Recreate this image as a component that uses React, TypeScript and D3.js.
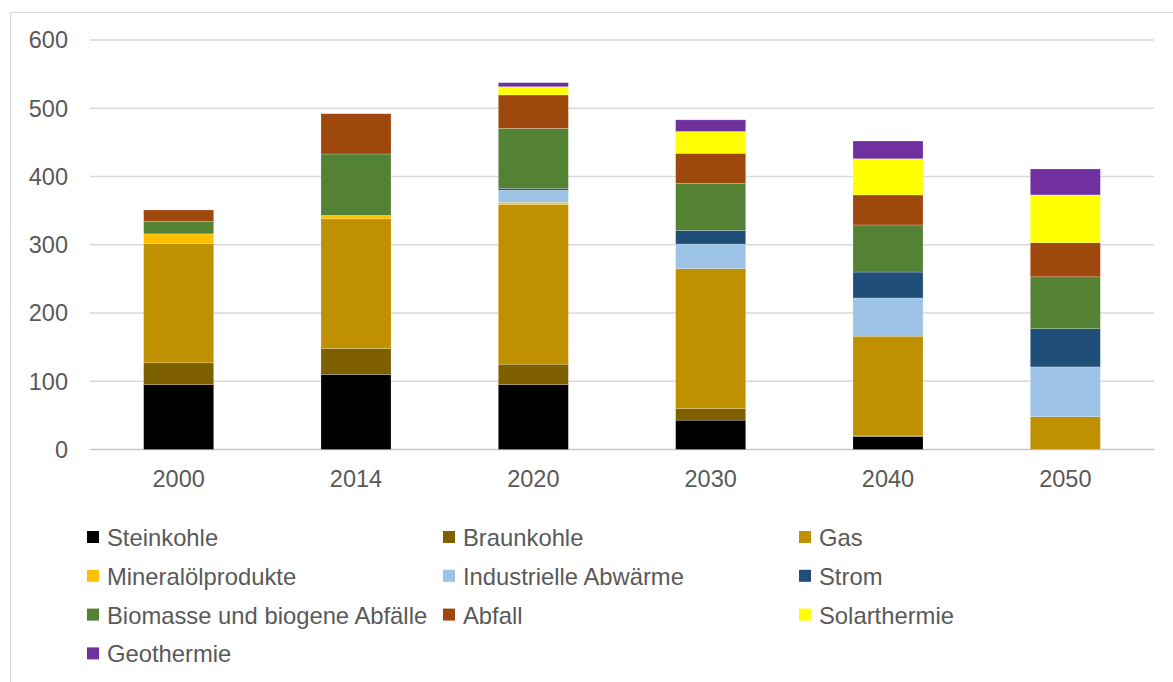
import React from "react";
import * as d3 from "d3";

const years = ["2000", "2014", "2020", "2030", "2040", "2050"];

const seriesNames = [
  "Steinkohle",
  "Braunkohle",
  "Gas",
  "Mineralölprodukte",
  "Industrielle Abwärme",
  "Strom",
  "Biomasse und biogene Abfälle",
  "Abfall",
  "Solarthermie",
  "Geothermie",
];

const steinkohle = [95, 110, 95, 43, 19, 0];
const braunkohle = [32, 38, 30, 17, 1, 0];
const gas = [175, 190, 234, 205, 146, 48];
const mineraloel = [14, 5, 3, 0, 0, 0];
const abwaerme = [0, 0, 18, 36, 56, 73];
const strom = [0, 0, 2.5, 20, 38, 56];
const biomasse = [18, 90, 88, 69, 69, 76];
const abfall = [17, 59, 49, 44, 44, 50];
const solar = [0, 0, 12, 32, 53, 70];
const geothermie = [0, 0, 6, 17, 26, 38];

const seriesValues = [
  steinkohle,
  braunkohle,
  gas,
  mineraloel,
  abwaerme,
  strom,
  biomasse,
  abfall,
  solar,
  geothermie,
];

const colors = [
  "#000000",
  "#7f6000",
  "#bf9000",
  "#ffc000",
  "#9dc3e6",
  "#1f4e79",
  "#548235",
  "#9e480e",
  "#ffff00",
  "#7030a0",
];

const yTicks = [0, 100, 200, 300, 400, 500, 600];

const W = 1173;
const H = 682;
const FONT = "'Liberation Sans', Arial, sans-serif";
const TEXT = "#595959";

export default function App() {
  const left = 90;
  const right = 1154;
  const top = 40;
  const bottom = 449.5;

  const x = d3
    .scaleBand<string>()
    .domain(years)
    .range([left, right])
    .paddingInner(0.605)
    .paddingOuter(0.3025);
  const y = d3.scaleLinear().domain([0, 600]).range([bottom, top]);

  const rows = years.map((yr, i) => {
    const row: Record<string, number | string> = { year: yr };
    seriesNames.forEach((s, k) => (row[s] = seriesValues[k][i]));
    return row;
  });
  const stacked = d3
    .stack<Record<string, number | string>>()
    .keys(seriesNames)
    .value((d, key) => d[key] as number)(rows);

  // legend: 3 columns, row-major
  const legX = [87, 443, 799];
  const legY0 = 537.5;
  const legDy = 38.8;

  return (
    <svg
      width={W}
      height={H}
      style={{ position: "absolute", left: 0, top: 0, background: "#fff" }}
    >
      <rect x={0} y={0} width={W} height={H} fill="#fff" />
      <rect
        x={10.5}
        y={12.5}
        width={W}
        height={H}
        fill="none"
        stroke="#d9d9d9"
        strokeWidth={1}
      />
      {/* grid */}
      {yTicks.map((t) => (
        <g key={t}>
          <line
            x1={left}
            x2={right}
            y1={y(t)}
            y2={y(t)}
            stroke={t === 0 ? "#c8c8c8" : "#d9d9d9"}
            strokeWidth={1.3}
          />
          <text
            x={68}
            y={y(t)}
            dy="0.36em"
            textAnchor="end"
            fontFamily={FONT}
            fontSize={23.5}
            fill={TEXT}
          >
            {t}
          </text>
        </g>
      ))}
      {/* bars */}
      {stacked.map((layer, k) => (
        <g key={layer.key} fill={colors[k]}>
          {layer.map((d, i) => {
            const h = y(d[0]) - y(d[1]);
            if (h <= 0) return null;
            return (
              <rect
                key={i}
                x={x(years[i])}
                y={y(d[1])}
                width={x.bandwidth()}
                height={h}
                stroke="#ffffff"
                strokeOpacity={0.35}
                strokeWidth={0.6}
              />
            );
          })}
        </g>
      ))}
      {/* x labels */}
      {years.map((yr) => (
        <text
          key={yr}
          x={(x(yr) ?? 0) + x.bandwidth() / 2}
          y={487.3}
          textAnchor="middle"
          fontFamily={FONT}
          fontSize={23.5}
          fill={TEXT}
        >
          {yr}
        </text>
      ))}
      {/* legend */}
      {seriesNames.map((s, k) => {
        const col = k % 3;
        const row = Math.floor(k / 3);
        const cy = legY0 + row * legDy;
        return (
          <g key={s}>
            <rect
              x={legX[col]}
              y={cy - 6.5}
              width={12}
              height={12}
              fill={colors[k]}
            />
            <text
              x={legX[col] + 20}
              y={cy}
              dy="0.36em"
              fontFamily={FONT}
              fontSize={23.8}
              fill={TEXT}
            >
              {s}
            </text>
          </g>
        );
      })}
    </svg>
  );
}
